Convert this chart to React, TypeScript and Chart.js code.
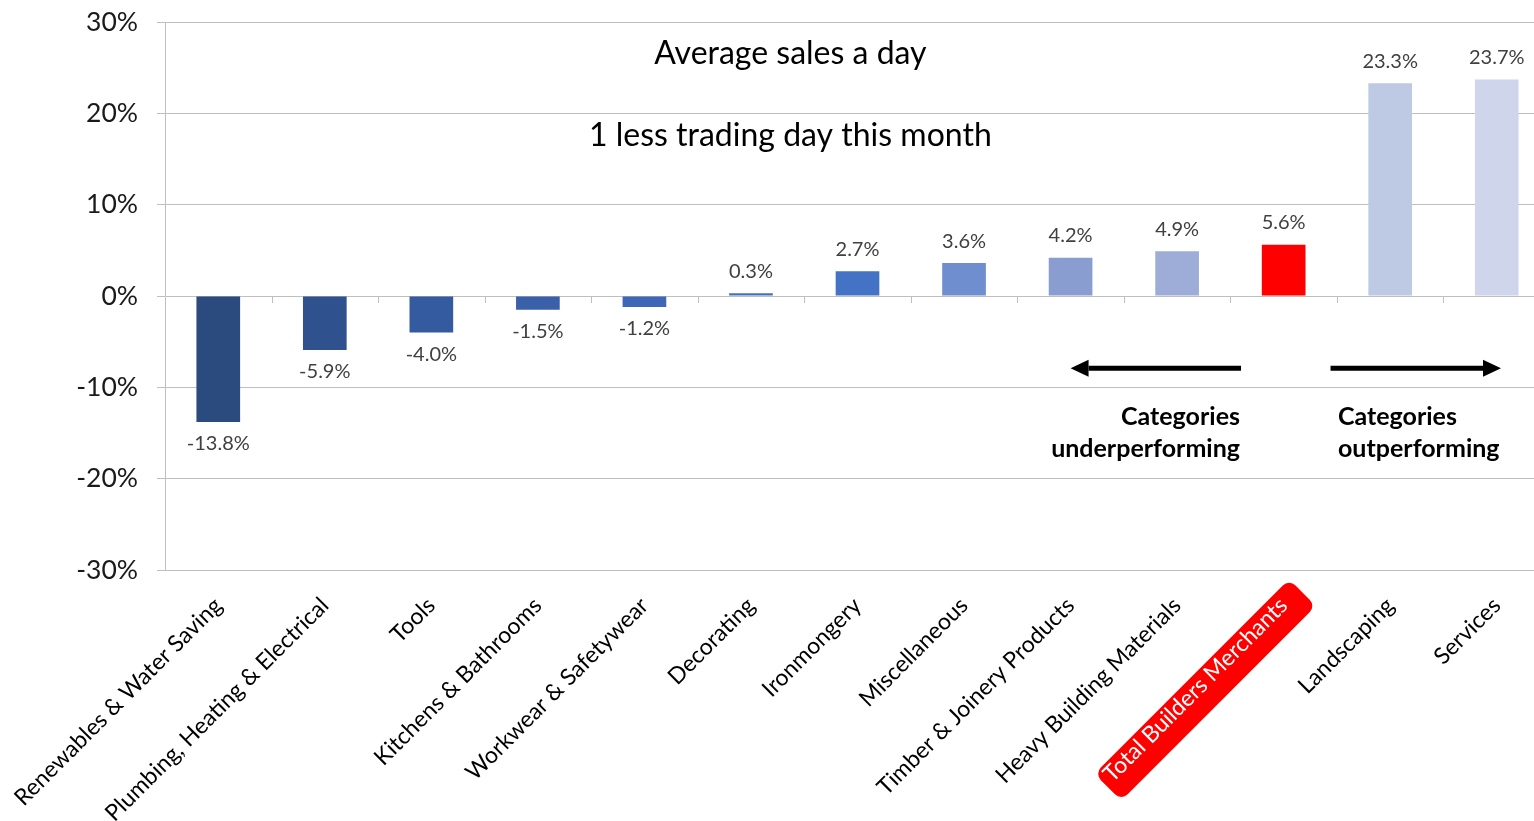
import React, { useEffect, useRef } from "react";
import { Chart, registerables } from "chart.js";

Chart.register(...registerables);

const categories = [
  "Renewables & Water Saving",
  "Plumbing, Heating & Electrical",
  "Tools",
  "Kitchens & Bathrooms",
  "Workwear & Safetywear",
  "Decorating",
  "Ironmongery",
  "Miscellaneous",
  "Timber & Joinery Products",
  "Heavy Building Materials",
  "Total Builders Merchants",
  "Landscaping",
  "Services",
];

const values = [-13.8, -5.9, -4.0, -1.5, -1.2, 0.3, 2.7, 3.6, 4.2, 4.9, 5.6, 23.3, 23.7];

const barColors = [
  "#2B4A7E",
  "#2F528F",
  "#345A9F",
  "#3A60AA",
  "#3E67B8",
  "#4270C4",
  "#4472C4",
  "#6F8ECF",
  "#8A9DD0",
  "#9DADD8",
  "#FF0000",
  "#BEC9E3",
  "#CFD6EB",
];

const yTicks = [-30, -20, -10, 0, 10, 20, 30];

const TOTAL_INDEX = 10;
const FONT = "Lato, 'Open Sans', sans-serif";

const titleLines = [
  { text: "Average sales a day", x: 5.37, y: 26.5 },
  { text: "1 less trading day this month", x: 5.37, y: 17.6 },
];

const noteLines = [
  { text: "Categories", x: 9.59, y: -13.25, align: "right" },
  { text: "underperforming", x: 9.59, y: -16.75, align: "right" },
  { text: "Categories", x: 10.51, y: -13.25, align: "left" },
  { text: "outperforming", x: 10.51, y: -16.75, align: "left" },
];

const arrows = [
  { from: 9.6, to: 8.0, y: -7.9 },
  { from: 10.44, to: 12.04, y: -7.9 },
];

const X_LABEL_FONT_SIZE = 23;
const X_LABEL_PADDING = 22;

const labelBadgePlugin = {
  id: "labelBadge",
  beforeDraw(chart: any) {
    const ctx = chart.ctx;
    const xs = chart.scales.x;
    const x = xs.getPixelForValue(TOTAL_INDEX);
    const y = xs.top + X_LABEL_PADDING;
    ctx.save();
    ctx.font = `${X_LABEL_FONT_SIZE}px ${FONT}`;
    const w = ctx.measureText(categories[TOTAL_INDEX]).width;
    const lh = X_LABEL_FONT_SIZE * 1.2;
    ctx.translate(x, y);
    ctx.rotate(-Math.PI / 4);
    ctx.fillStyle = "#FF0000";
    ctx.beginPath();
    (ctx as any).roundRect(-w - 13, lh / 2 - 19, w + 26, 38, 9);
    ctx.fill();
    ctx.restore();
  },
};

const zeroTicksPlugin = {
  id: "zeroTicks",
  beforeDatasetsDraw(chart: any) {
    const ctx = chart.ctx;
    const xs = chart.scales.x;
    const ys = chart.scales.y;
    const y0 = ys.getPixelForValue(0);
    ctx.save();
    ctx.strokeStyle = "#BFBFBF";
    ctx.lineWidth = 1;
    for (let i = 1; i < categories.length; i++) {
      const x = Math.round(xs.getPixelForValue(i - 0.5)) + 0.5;
      ctx.beginPath();
      ctx.moveTo(x, y0);
      ctx.lineTo(x, y0 + 7);
      ctx.stroke();
    }
    ctx.restore();
  },
};

const valueLabelsPlugin = {
  id: "valueLabels",
  afterDatasetsDraw(chart: any) {
    const ctx = chart.ctx;
    const meta = chart.getDatasetMeta(0);
    ctx.save();
    ctx.font = `20px ${FONT}`;
    ctx.textAlign = "center";
    ctx.textBaseline = "middle";
    meta.data.forEach((bar: any, i: number) => {
      const v = values[i];
      const text = v.toFixed(1) + "%";
      const y = v >= 0 ? bar.y - 22 : bar.y + 22;
      const w = ctx.measureText(text).width;
      ctx.fillStyle = "#FFFFFF";
      ctx.fillRect(bar.x - w / 2 - 6, y - 12, w + 12, 24);
      ctx.fillStyle = "#404040";
      ctx.fillText(text, bar.x, y);
    });
    ctx.restore();
  },
};

const annotationsPlugin = {
  id: "annotations",
  afterDraw(chart: any) {
    const ctx = chart.ctx;
    const xs = chart.scales.x;
    const ys = chart.scales.y;
    ctx.save();
    ctx.fillStyle = "#000000";
    ctx.textBaseline = "middle";
    ctx.font = `32px ${FONT}`;
    ctx.textAlign = "center";
    titleLines.forEach((t) => {
      ctx.fillText(t.text, xs.getPixelForValue(t.x), ys.getPixelForValue(t.y));
    });
    ctx.font = `bold 25px ${FONT}`;
    noteLines.forEach((t) => {
      ctx.textAlign = t.align as CanvasTextAlign;
      ctx.fillText(t.text, xs.getPixelForValue(t.x), ys.getPixelForValue(t.y));
    });
    ctx.strokeStyle = "#000000";
    ctx.lineWidth = 5;
    arrows.forEach((a) => {
      const x1 = xs.getPixelForValue(a.from);
      const x2 = xs.getPixelForValue(a.to);
      const y = ys.getPixelForValue(a.y);
      const dir = x2 > x1 ? 1 : -1;
      const headLen = 18;
      ctx.beginPath();
      ctx.moveTo(x1, y);
      ctx.lineTo(x2 - dir * headLen, y);
      ctx.stroke();
      ctx.beginPath();
      ctx.moveTo(x2, y);
      ctx.lineTo(x2 - dir * headLen, y - 8.5);
      ctx.lineTo(x2 - dir * headLen, y + 8.5);
      ctx.closePath();
      ctx.fill();
    });
    ctx.restore();
  },
};

export default function App() {
  const canvasRef = useRef<HTMLCanvasElement | null>(null);

  useEffect(() => {
    document.body.style.margin = "0";
    const canvas = canvasRef.current;
    if (!canvas) return;
    const chart = new Chart(canvas, {
      type: "bar",
      data: {
        labels: categories,
        datasets: [
          {
            data: values,
            backgroundColor: barColors,
            borderWidth: 0,
            barPercentage: 0.41,
            categoryPercentage: 1,
          },
        ],
      },
      options: {
        responsive: false,
        animation: false,
        devicePixelRatio: 1,
        layout: { padding: { top: 22, right: 0, left: 0, bottom: 0 } },
        plugins: {
          legend: { display: false },
          tooltip: { enabled: false },
          title: { display: false },
        },
        scales: {
          x: {
            grid: { display: false, drawTicks: false },
            border: { display: false },
            ticks: {
              autoSkip: false,
              maxRotation: 45,
              minRotation: 45,
              padding: X_LABEL_PADDING,
              font: { family: FONT, size: X_LABEL_FONT_SIZE },
              color: (c: any) => (c.index === TOTAL_INDEX ? "#FFFFFF" : "#000000"),
            },
            afterFit: (scale: any) => {
              scale.height = 251;
              scale.paddingLeft = 0;
              scale.paddingRight = 0;
            },
          },
          y: {
            min: -30,
            max: 30,
            afterBuildTicks: (scale: any) => {
              scale.ticks = yTicks.map((v) => ({ value: v }));
            },
            grid: {
              color: "#BFBFBF",
              lineWidth: 1,
              drawTicks: true,
              tickLength: 8,
            },
            border: { display: true, color: "#BFBFBF", width: 1 },
            ticks: {
              padding: 19,
              font: { family: FONT, size: 26.5 },
              color: "#1A1A1A",
              callback: (v: any) => `${v}%`,
            },
            afterFit: (scale: any) => {
              scale.width = 165;
              scale.paddingTop = 0;
              scale.paddingBottom = 0;
            },
          },
        },
      },
      plugins: [labelBadgePlugin, zeroTicksPlugin, valueLabelsPlugin, annotationsPlugin],
    });
    return () => chart.destroy();
  }, []);

  return (
    <div style={{ width: 1534, height: 821, overflow: "hidden", background: "#FFFFFF" }}>
      <canvas ref={canvasRef} width={1550} height={821} style={{ display: "block" }} />
    </div>
  );
}
